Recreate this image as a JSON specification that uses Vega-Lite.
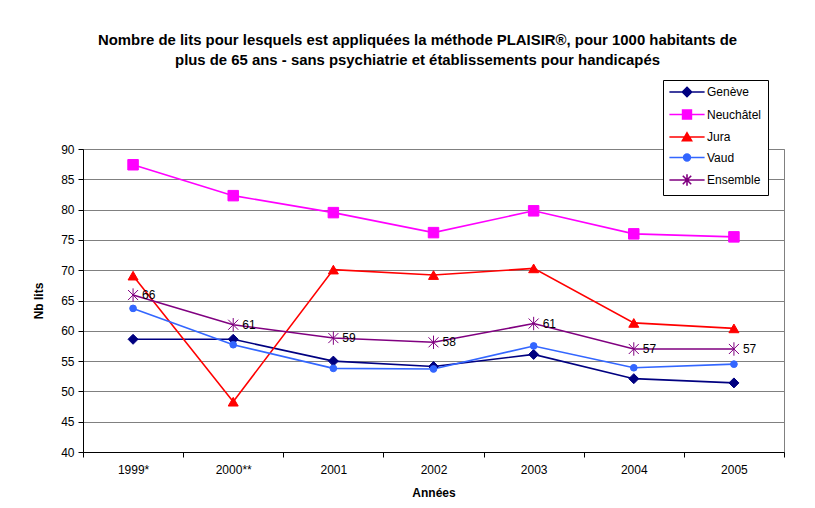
{
  "$schema": "https://vega.github.io/schema/vega-lite/v6.json",
  "width": 701,
  "height": 303,
  "autosize": {"type": "none"},
  "padding": {"left": 83, "top": 149, "right": 31, "bottom": 56},
  "background": "white",
  "title": {
    "text": ["Nombre de lits pour lesquels est appliquées la méthode PLAISIR®, pour 1000 habitants de", "plus de 65 ans - sans psychiatrie et établissements pour handicapés"],
    "font": "Liberation Sans",
    "fontSize": 14.9,
    "fontWeight": "bold",
    "lineHeight": 20,
    "anchor": "middle",
    "offset": 12,
    "dx": -16,
    "color": "black"
  },
  "config": {
    "font": "Liberation Sans",
    "view": {"stroke": "#808080", "strokeWidth": 1},
    "axis": {
      "labelFont": "Liberation Sans",
      "labelFontSize": 12,
      "labelColor": "black",
      "titleFont": "Liberation Sans",
      "titleFontSize": 12,
      "titleFontWeight": "bold",
      "titleColor": "black",
      "domainColor": "black",
      "tickColor": "black",
      "tickSize": 5
    },
    "legend": {
      "labelFont": "Liberation Sans",
      "labelFontSize": 12,
      "labelColor": "black",
      "orient": "none",
      "legendX": 580,
      "legendY": -69,
      "fillColor": "white",
      "strokeColor": "black",
      "padding": 6,
      "symbolSize": 64,
      "symbolOffset": 12,
      "labelOffset": 14,
      "rowPadding": 6.5,
      "symbolStrokeWidth": 1.6
    }
  },
  "data": {
    "values": [
      {"year": "1999*", "series": "Genève", "value": 58.6},
      {"year": "2000**", "series": "Genève", "value": 58.6},
      {"year": "2001", "series": "Genève", "value": 55.0},
      {"year": "2002", "series": "Genève", "value": 54.1},
      {"year": "2003", "series": "Genève", "value": 56.1},
      {"year": "2004", "series": "Genève", "value": 52.1},
      {"year": "2005", "series": "Genève", "value": 51.4},
      {"year": "1999*", "series": "Neuchâtel", "value": 87.4},
      {"year": "2000**", "series": "Neuchâtel", "value": 82.3},
      {"year": "2001", "series": "Neuchâtel", "value": 79.5},
      {"year": "2002", "series": "Neuchâtel", "value": 76.2},
      {"year": "2003", "series": "Neuchâtel", "value": 79.8},
      {"year": "2004", "series": "Neuchâtel", "value": 76.0},
      {"year": "2005", "series": "Neuchâtel", "value": 75.5},
      {"year": "1999*", "series": "Jura", "value": 69.1},
      {"year": "2000**", "series": "Jura", "value": 48.3},
      {"year": "2001", "series": "Jura", "value": 70.1},
      {"year": "2002", "series": "Jura", "value": 69.2},
      {"year": "2003", "series": "Jura", "value": 70.3},
      {"year": "2004", "series": "Jura", "value": 61.3},
      {"year": "2005", "series": "Jura", "value": 60.4},
      {"year": "1999*", "series": "Vaud", "value": 63.7},
      {"year": "2000**", "series": "Vaud", "value": 57.7},
      {"year": "2001", "series": "Vaud", "value": 53.8},
      {"year": "2002", "series": "Vaud", "value": 53.7},
      {"year": "2003", "series": "Vaud", "value": 57.5},
      {"year": "2004", "series": "Vaud", "value": 53.9},
      {"year": "2005", "series": "Vaud", "value": 54.5},
      {"year": "1999*", "series": "Ensemble", "value": 65.9},
      {"year": "2000**", "series": "Ensemble", "value": 61.0},
      {"year": "2001", "series": "Ensemble", "value": 58.8},
      {"year": "2002", "series": "Ensemble", "value": 58.1},
      {"year": "2003", "series": "Ensemble", "value": 61.2},
      {"year": "2004", "series": "Ensemble", "value": 57.0},
      {"year": "2005", "series": "Ensemble", "value": 57.0}
    ]
  },
  "encoding": {
    "x": {
      "field": "year",
      "type": "nominal",
      "scale": {"domain": ["1999*", "2000**", "2001", "2002", "2003", "2004", "2005"], "paddingInner": 0, "paddingOuter": 0},
      "axis": {"title": "Années", "labelAngle": 0, "tickBand": "extent", "labelPadding": 7, "titlePadding": 12, "grid": false}
    },
    "y": {
      "field": "value",
      "type": "quantitative",
      "scale": {"domain": [40, 90], "nice": false, "zero": false},
      "axis": {"title": "Nb lits", "values": [40, 45, 50, 55, 60, 65, 70, 75, 80, 85, 90], "grid": true, "gridColor": "#808080", "gridWidth": 1, "labelPadding": 4, "titlePadding": 15}
    }
  },
  "layer": [
    {
      "mark": {"type": "line", "strokeWidth": 1.6},
      "encoding": {
        "stroke": {
          "field": "series",
          "type": "nominal",
          "scale": {"domain": ["Genève", "Neuchâtel", "Jura", "Vaud", "Ensemble"], "range": ["#000080", "#FF00FF", "#FF0000", "#3366FF", "#800080"]},
          "legend": {
            "title": null,
            "encode": {
              "symbols": {
                "update": {
                  "shape": {"signal": "datum.value === 'Genève' ? 'M-4.4,0L4.4,0M0,-1.15L1.15,0L0,1.15L-1.15,0Z' : datum.value === 'Neuchâtel' ? 'M-4.4,0L4.4,0M-1.1,-1.1L1.1,-1.1L1.1,1.1L-1.1,1.1Z' : datum.value === 'Jura' ? 'M-4.4,0L4.4,0M0,-1.05L1.15,0.95L-1.15,0.95Z' : datum.value === 'Vaud' ? 'M-4.4,0L4.4,0M-0.85,0A0.85,0.85 0 1,0 0.85,0A0.85,0.85 0 1,0 -0.85,0Z' : 'M-4.4,0L4.4,0M-1.05,-1.05L1.05,1.05M-1.05,1.05L1.05,-1.05M0,-1.45L0,1.45'"},
                  "fill": {"signal": "datum.value === 'Genève' ? '#000080' : datum.value === 'Neuchâtel' ? '#FF00FF' : datum.value === 'Jura' ? '#FF0000' : datum.value === 'Vaud' ? '#3366FF' : '#800080'"},
                  "strokeWidth": {"value": 1.6},
                  "size": {"value": 64},
                  "opacity": {"value": 1}
                }
              }
            }
          }
        }
      }
    },
    {
      "transform": [{"filter": "datum.series === 'Genève'"}],
      "mark": {"type": "point", "shape": "diamond", "size": 100, "filled": true, "fill": "#000080", "stroke": "#000080", "strokeWidth": 1, "opacity": 1}
    },
    {
      "transform": [{"filter": "datum.series === 'Neuchâtel'"}],
      "mark": {"type": "point", "shape": "square", "size": 110, "filled": true, "fill": "#FF00FF", "stroke": "#FF00FF", "strokeWidth": 1, "opacity": 1}
    },
    {
      "transform": [{"filter": "datum.series === 'Jura'"}],
      "mark": {"type": "point", "shape": "triangle-up", "size": 100, "filled": true, "fill": "#FF0000", "stroke": "#FF0000", "strokeWidth": 1, "opacity": 1}
    },
    {
      "transform": [{"filter": "datum.series === 'Vaud'"}],
      "mark": {"type": "point", "shape": "circle", "size": 45, "filled": true, "fill": "#3366FF", "stroke": "#3366FF", "strokeWidth": 1, "opacity": 1}
    },
    {
      "transform": [{"filter": "datum.series === 'Ensemble'"}],
      "mark": {"type": "point", "shape": "M-0.75,-0.75L0.75,0.75M-0.75,0.75L0.75,-0.75M0,-1L0,1", "size": 180, "filled": false, "stroke": "#800080", "strokeWidth": 1, "opacity": 1}
    },
    {
      "transform": [{"filter": "datum.series === 'Ensemble'"}],
      "mark": {"type": "text", "align": "left", "baseline": "middle", "dx": 9, "fontSize": 12, "color": "black", "font": "Liberation Sans"},
      "encoding": {
        "text": {"field": "value", "type": "quantitative", "format": ".0f"}
      }
    }
  ]
}
